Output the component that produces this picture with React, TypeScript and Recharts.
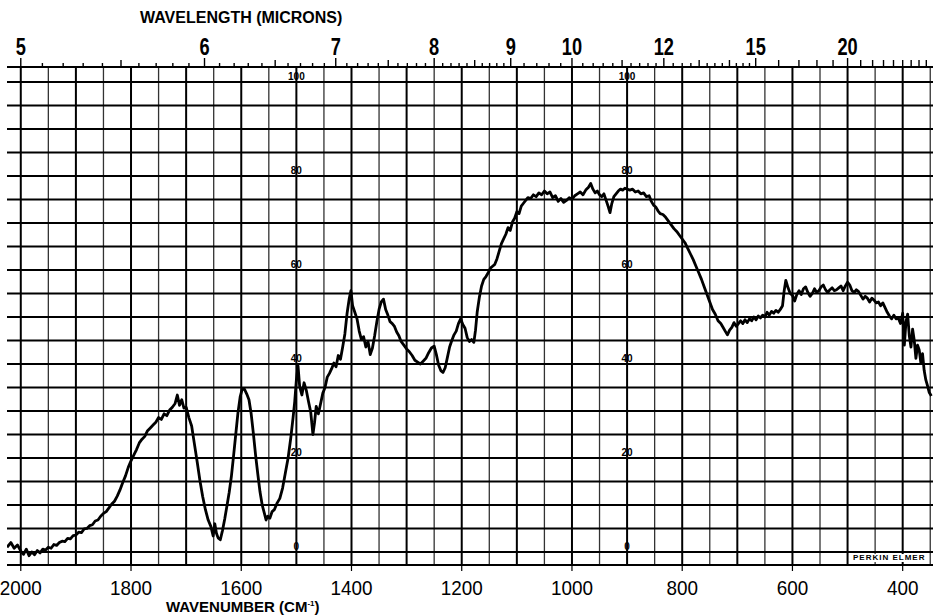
import { LineChart, Line, XAxis, YAxis, CartesianGrid, ReferenceDot, ReferenceLine } from "recharts";

// [wavenumber cm-1, % transmittance], left to right
const traceHigh: [number, number][] = [
  [2025, 1.0], [2018, 2.0], [2012, 0.8], [2006, 1.5], [2000, 0.2], [1995, -0.5], [1990, 0.6],
  [1985, -0.8], [1980, 0.0], [1975, -0.6], [1970, 0.3], [1965, -0.2], [1960, 0.6], [1955, 0.4],
  [1950, 1.0], [1945, 0.8], [1940, 1.6], [1935, 1.4], [1930, 2.0], [1925, 2.3], [1920, 2.2],
  [1915, 2.9], [1910, 2.8], [1905, 3.5], [1900, 3.6], [1895, 4.2], [1890, 4.1], [1885, 4.9],
  [1880, 5.0], [1875, 5.6], [1870, 5.8], [1865, 6.6], [1860, 6.8], [1855, 7.6], [1850, 8.2],
  [1845, 8.6], [1840, 9.4], [1835, 10.2], [1830, 10.8], [1825, 11.9], [1820, 13.2], [1815, 14.8],
  [1810, 16.2], [1805, 18.0], [1800, 19.4], [1795, 20.6], [1790, 21.8], [1785, 23.2], [1780, 24.0],
  [1775, 24.6], [1770, 25.8], [1765, 26.4], [1760, 27.0], [1755, 27.6], [1750, 28.6], [1745, 28.2],
  [1740, 29.4], [1735, 29.0], [1730, 30.2], [1725, 30.8], [1720, 31.6], [1716, 33.4], [1712, 31.2],
  [1708, 32.4], [1704, 30.6], [1700, 30.8], [1695, 28.6], [1690, 26.8], [1685, 23.0], [1680, 19.2],
  [1675, 15.2], [1670, 11.8], [1665, 9.0], [1660, 6.8], [1655, 5.4], [1651, 3.4], [1648, 6.0],
  [1645, 4.0], [1642, 3.0], [1638, 2.6], [1634, 4.6], [1630, 7.0], [1626, 9.8], [1622, 12.6],
  [1618, 16.0], [1614, 20.4], [1610, 25.0], [1606, 29.6], [1602, 33.0], [1598, 34.8], [1594, 34.6],
  [1590, 33.6], [1586, 32.4], [1582, 29.4], [1578, 25.2], [1574, 20.6], [1570, 16.6], [1566, 12.8],
  [1562, 10.0], [1558, 8.2], [1555, 6.8], [1552, 7.6], [1548, 7.2], [1544, 8.6], [1540, 9.0],
  [1535, 10.4], [1530, 11.4], [1525, 13.6], [1520, 16.8], [1515, 20.0], [1510, 24.4], [1506, 28.6],
  [1503, 32.0], [1500, 36.6], [1497, 39.6], [1494, 35.2], [1490, 33.4], [1486, 36.0], [1482, 34.4],
  [1478, 32.0], [1474, 29.8], [1470, 25.0], [1467, 27.6], [1464, 31.0], [1460, 29.4], [1456, 31.6],
  [1452, 33.8], [1448, 35.0], [1444, 37.2], [1440, 38.0], [1436, 39.0], [1432, 40.2], [1428, 39.4],
  [1424, 41.8], [1420, 41.0], [1416, 43.6], [1412, 46.4], [1408, 50.8], [1404, 54.0], [1401, 55.6],
];

const traceMid: [number, number][] = [
  [1398, 52.4], [1394, 51.0], [1390, 49.6], [1386, 47.0], [1382, 45.2], [1378, 45.8], [1374, 43.6],
  [1370, 44.8], [1366, 42.0], [1362, 43.4], [1358, 46.0], [1354, 49.0], [1350, 51.6], [1346, 53.2],
  [1342, 53.8], [1338, 51.6], [1334, 50.4], [1330, 49.0], [1326, 48.6], [1322, 48.0], [1318, 46.8],
  [1314, 46.0], [1310, 44.8], [1305, 44.0], [1300, 43.2], [1295, 42.6], [1290, 41.8], [1285, 40.8],
  [1280, 40.4], [1275, 40.0], [1270, 40.6], [1265, 41.2], [1260, 42.4], [1255, 43.4], [1250, 43.8],
  [1246, 42.0], [1242, 39.8], [1238, 38.6], [1234, 38.2], [1230, 39.2], [1226, 41.4], [1222, 43.6],
  [1218, 45.0], [1214, 46.2], [1210, 47.0], [1206, 48.6], [1202, 49.6], [1198, 48.4], [1194, 47.6],
  [1190, 45.6], [1186, 44.8], [1182, 45.2], [1178, 44.6], [1175, 47.2], [1172, 51.0], [1168, 54.2],
  [1164, 56.6], [1160, 58.0], [1156, 58.6], [1152, 59.4], [1148, 60.4], [1144, 60.8], [1140, 61.2],
  [1136, 62.4], [1132, 64.0], [1128, 65.6], [1124, 66.6], [1120, 67.6], [1116, 69.0], [1112, 68.4],
  [1108, 70.2], [1104, 71.0], [1100, 72.4], [1096, 72.0], [1092, 73.6], [1088, 74.2], [1084, 74.8],
  [1080, 75.4], [1075, 75.2], [1070, 76.0], [1065, 75.6], [1060, 76.4], [1055, 76.0], [1050, 76.8],
  [1045, 76.2], [1040, 76.6], [1035, 75.4], [1030, 75.8], [1025, 74.6], [1020, 75.2], [1015, 74.4],
  [1010, 74.8], [1005, 75.4], [1000, 75.0], [995, 75.8], [990, 76.2], [985, 76.6], [980, 76.0],
  [975, 77.0], [970, 77.6], [966, 78.4], [962, 77.2], [958, 76.4], [954, 76.8], [950, 76.0],
  [946, 75.6], [942, 76.2], [938, 74.8], [934, 73.4], [931, 72.2], [928, 74.0], [924, 75.6],
  [920, 76.2], [916, 76.8], [912, 77.2], [908, 77.0], [904, 77.4], [900, 77.2], [895, 77.0],
  [890, 77.2], [885, 76.6], [880, 76.8], [875, 76.2], [870, 76.4], [865, 75.6], [860, 75.8],
  [856, 74.6], [852, 73.8], [848, 73.4], [844, 72.6], [840, 72.0], [835, 71.8], [830, 71.2],
  [825, 70.4], [820, 69.6], [815, 68.8], [810, 68.2], [805, 67.4], [800, 66.6], [795, 65.8],
  [790, 64.6], [785, 63.4], [780, 62.2], [775, 60.8], [770, 59.4], [765, 58.0], [760, 56.4],
  [755, 54.8], [750, 53.2], [745, 51.6], [740, 50.6], [735, 49.2], [730, 48.6], [726, 47.8],
  [722, 47.0], [718, 46.2],
];

const traceLow: [number, number][] = [
  [714, 47.2], [710, 47.8], [706, 48.8], [702, 48.0], [698, 48.6], [694, 49.2], [690, 48.6],
  [686, 49.4], [682, 48.8], [678, 49.6], [674, 49.2], [670, 50.0], [666, 49.4], [662, 50.2],
  [658, 49.8], [654, 50.4], [650, 50.0], [646, 51.0], [642, 50.4], [638, 51.2], [634, 50.8],
  [630, 51.4], [626, 51.0], [622, 51.6], [618, 52.4], [615, 55.6], [612, 57.8], [608, 56.2],
  [604, 55.0], [600, 54.6], [596, 53.4], [592, 54.8], [588, 55.6], [584, 54.8], [580, 56.0],
  [576, 56.4], [572, 55.2], [568, 54.4], [564, 55.0], [560, 56.0], [556, 55.2], [552, 55.6],
  [548, 56.4], [544, 56.8], [540, 55.8], [536, 55.2], [532, 55.8], [528, 56.2], [524, 55.6],
  [520, 55.8], [516, 56.2], [512, 56.6], [508, 55.6], [504, 56.6], [500, 57.4], [496, 56.8],
  [492, 55.6], [488, 55.2], [484, 55.8], [480, 55.4], [476, 54.6], [472, 53.8], [468, 54.4],
  [464, 54.0], [460, 53.2], [456, 54.0], [452, 53.6], [448, 53.0], [444, 53.2], [440, 52.4],
  [436, 53.0], [432, 52.0], [428, 51.0], [424, 50.2], [420, 49.6], [416, 50.4], [412, 49.6],
  [408, 49.8], [404, 48.6], [400, 50.8], [397, 44.0], [394, 49.0], [391, 50.6], [388, 46.0],
  [385, 43.6], [382, 47.4], [379, 45.0], [376, 41.2], [373, 44.0], [370, 43.0], [367, 40.2],
  [364, 42.2], [361, 38.6], [358, 36.6], [355, 35.4], [352, 34.0], [348, 33.2],
];

const wavenumberLabels = [2000, 1800, 1600, 1400, 1200, 1000, 800, 600, 400];
const micronLabels = [5, 6, 7, 8, 9, 10, 12, 15, 20];
const percentLabels = [100, 80, 60, 40, 20, 0];
const percentColumns = [1500, 900];

const data = [...traceHigh, ...traceMid, ...traceLow].map(([wn, t]) => ({ wn, t }));

// chart paper: a line every 50 cm-1 and every 5 %
const gridX: number[] = [];
for (let w = 2000; w >= 350; w -= 50) gridX.push(w);
const gridY: number[] = [];
for (let p = 0; p <= 100; p += 5) gridY.push(p);

// micron scale marks, finer at short wavelengths
const micronMarks: number[] = [];
const addMarks = (from: number, to: number, step: number) => {
  for (let m = from; m <= to + 1e-6; m += step) micronMarks.push(Math.round(m * 100) / 100);
};
addMarks(5, 9, 0.1);
addMarks(9.2, 12, 0.2);
addMarks(12.25, 15, 0.25);
addMarks(16, 28, 1);
const topTicks = micronMarks.map((m) => 10000 / m);

const FONT = "'Liberation Sans', Arial, sans-serif";

function TopTick(props: any) {
  const { x, y, payload } = props;
  const m = Math.round((10000 / payload.value) * 100) / 100;
  const labelled = micronLabels.includes(m);
  const whole = Math.abs(m - Math.round(m)) < 1e-6;
  const half = m < 10 && Math.abs(m * 2 - Math.round(m * 2)) < 1e-6;
  const len = labelled ? 9 : whole || half ? 7 : 4;
  return (
    <g>
      <line x1={x} x2={x} y1={y} y2={y - len} stroke="#000" strokeWidth={1.4} />
      {labelled && (
        <text
          transform={`translate(${x},${y - 12}) scale(0.76,1)`}
          textAnchor="middle"
          fontSize={24}
          fontWeight="bold"
          fontFamily={FONT}
          fill="#000"
        >
          {m}
        </text>
      )}
    </g>
  );
}

function BottomTick(props: any) {
  const { x, y, payload } = props;
  if (!wavenumberLabels.includes(payload.value)) return <g />;
  return (
    <g>
      <line x1={x} x2={x} y1={y} y2={y + 6} stroke="#000" strokeWidth={1.2} />
      <text
        transform={`translate(${x},${y + 30}) scale(0.9,1)`}
        textAnchor="middle"
        fontSize={21}
        fontFamily={FONT}
        fill="#000"
      >
        {payload.value}
      </text>
    </g>
  );
}

function VerticalLine(props: any) {
  const { x1, x2, y1, y2, index } = props;
  const major = index % 2 === 0;
  return (
    <line
      key={`v-${index}`}
      x1={x1}
      x2={x2}
      y1={y1}
      y2={y2}
      stroke={major ? "#000" : "#333"}
      strokeWidth={major ? 2 : 1.3}
    />
  );
}

export default function App() {
  return (
    <div
      style={{
        position: "absolute",
        left: 0,
        top: 0,
        width: 934,
        height: 616,
        overflow: "hidden",
        background: "#fff",
        fontFamily: FONT,
      }}
    >
      <LineChart width={934} height={616} data={data} margin={{ top: 0, right: 1, bottom: 0, left: 7 }}>
        <CartesianGrid
          stroke="#000"
          strokeWidth={2}
          horizontal={false}
          verticalValues={gridX}
          vertical={VerticalLine}
        />
        {gridY.map((p) => (
          <ReferenceLine key={`h-${p}`} y={p} stroke="#000" strokeWidth={2} />
        ))}
        <XAxis
          dataKey="wn"
          type="number"
          domain={[345, 2025]}
          reversed
          allowDataOverflow
          ticks={gridX}
          interval={0}
          height={51}
          tickSize={0}
          tickMargin={0}
          tick={BottomTick}
          axisLine={{ stroke: "#000", strokeWidth: 2 }}
        />
        <XAxis
          xAxisId="top"
          orientation="top"
          dataKey="wn"
          type="number"
          domain={[345, 2025]}
          reversed
          allowDataOverflow
          ticks={topTicks}
          interval={0}
          height={67}
          tickSize={0}
          tickMargin={0}
          tick={TopTick}
          axisLine={{ stroke: "#000", strokeWidth: 2 }}
        />
        <YAxis
          type="number"
          domain={[-2.77, 103.19]}
          allowDataOverflow
          ticks={gridY}
          interval={0}
          width={0}
          tick={false}
          axisLine={false}
          tickLine={false}
        />
        {percentColumns.map((col) =>
          percentLabels.map((p) => (
            <ReferenceDot
              key={`${col}-${p}`}
              x={col}
              y={p}
              r={0}
              fill="none"
              stroke="none"
              label={{
                value: String(p),
                position: "top",
                offset: 2,
                fill: "#000",
                fontSize: 10,
                fontWeight: "bold",
                fontFamily: FONT,
              }}
            />
          ))
        )}
        <Line
          dataKey="t"
          type="linear"
          stroke="#000"
          strokeWidth={2.8}
          strokeLinejoin="round"
          dot={false}
          isAnimationActive={false}
        />
      </LineChart>
      <div
        style={{
          position: "absolute",
          left: 140,
          top: 10,
          fontSize: 16,
          lineHeight: 1,
          fontWeight: "bold",
          whiteSpace: "nowrap",
        }}
      >
        WAVELENGTH (MICRONS)
      </div>
      <div
        style={{
          position: "absolute",
          left: 166,
          top: 599,
          fontSize: 15,
          lineHeight: 1,
          fontWeight: "bold",
          whiteSpace: "nowrap",
        }}
      >
        WAVENUMBER (CM<sup style={{ fontSize: 8, lineHeight: 0 }}>-1</sup>)
      </div>
      <div
        style={{
          position: "absolute",
          left: 853,
          top: 554,
          fontSize: 8,
          lineHeight: 1,
          fontWeight: "bold",
          letterSpacing: 1,
          whiteSpace: "nowrap",
          background: "#fff",
        }}
      >
        PERKIN ELMER
      </div>
    </div>
  );
}
